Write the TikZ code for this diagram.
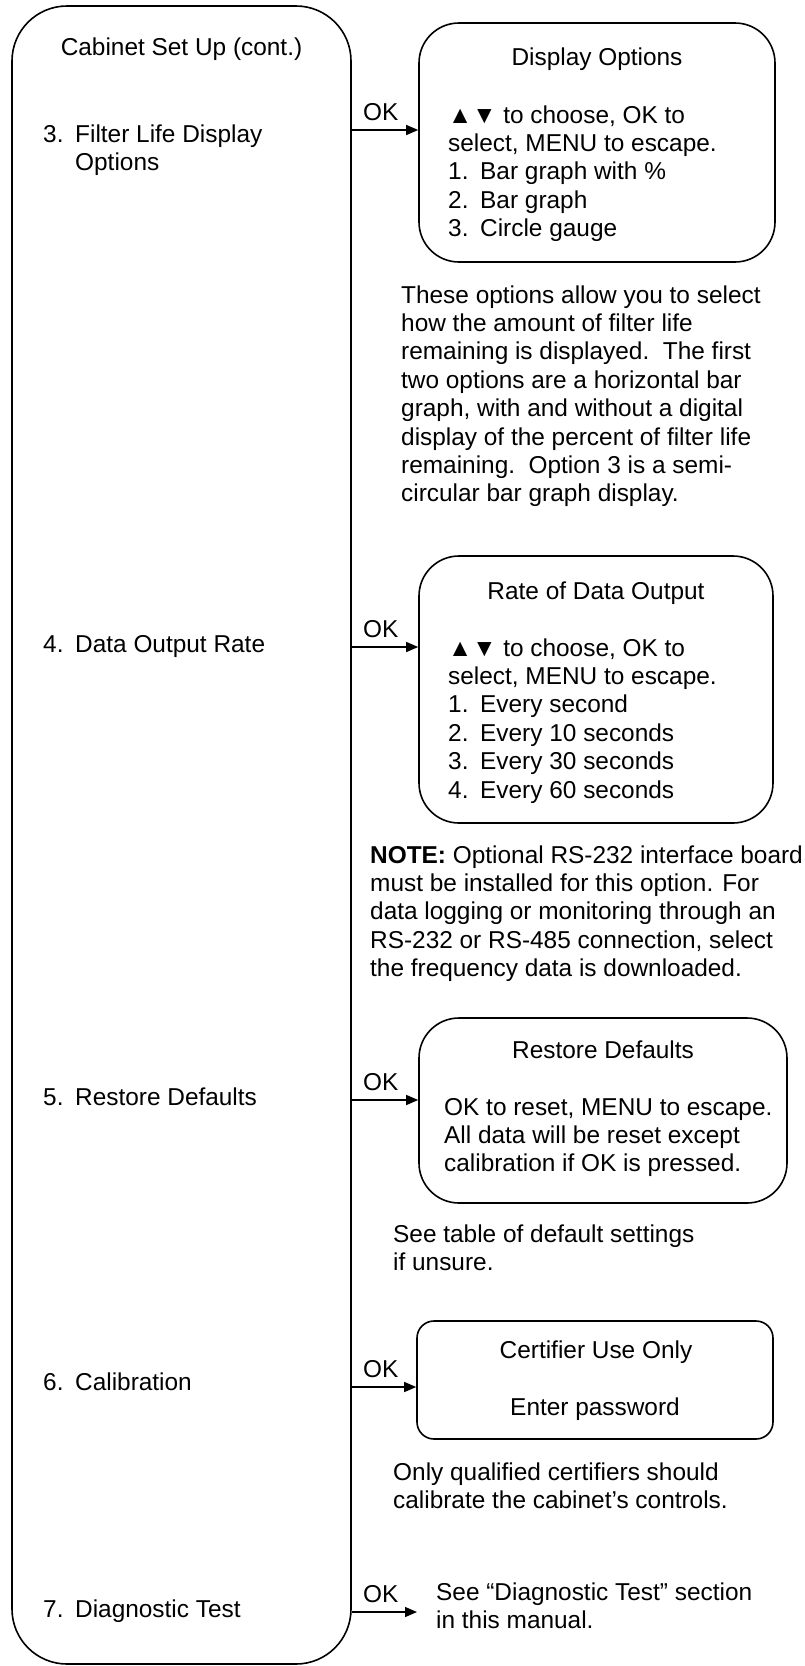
\documentclass[tikz,border=0pt]{standalone}
\usepackage{fontspec}
\setmainfont{Liberation Sans}
\usetikzlibrary{arrows.meta}
\newcommand\tl[1]{\begin{tabular}[t]{@{}l@{}}#1\end{tabular}}
\newcommand\nm[1]{\makebox[32pt][l]{#1}}
\begin{document}
\begin{tikzpicture}[x=1pt,y=-1pt,
  every node/.style={font=\fontsize{24.4}{28.4}\selectfont, inner sep=0pt, text=black},
  box/.style={draw, line width=1.6pt, rounded corners=40pt},
  arr/.style={line width=1.3pt, -{Triangle[length=12pt,width=10pt]}},
  txt/.style={anchor=base west},
  ctr/.style={anchor=base}]
\useasboundingbox (0,0) rectangle (805,1666);
\fill[white] (0,0) rectangle (805,1666);

% main column box
\node[box, rounded corners=55pt, minimum width=339pt, minimum height=1658pt] (big) at (181.5,835) {};
\node[ctr] (title) at (181.5,55) {Cabinet Set Up (cont.)};
\node[txt] (i3) at (43,142) {\tl{\nm{3.}Filter Life Display\\\nm{}Options}};
\node[txt] (i4) at (43,652) {\nm{4.}Data Output Rate};
\node[txt] (i5) at (43,1105) {\nm{5.}Restore Defaults};
\node[txt] (i6) at (43,1390) {\nm{6.}Calibration};
\node[txt] (i7) at (43,1617) {\nm{7.}Diagnostic Test};

% Display options box
\node[box, minimum width=356pt, minimum height=239pt] (b3) at (597,142.5) {};
\node[ctr] (b3t) at (597,65) {Display Options};
\node[txt] (b3b) at (448,123) {\tl{▲▼ to choose, OK to\\select, MENU to escape.\\\nm{1.}Bar graph with \%\\\nm{2.}Bar graph\\\nm{3.}Circle gauge}};
\node[txt] (p3) at (401,303) {\tl{These options allow you to select\\how the amount of filter life\\remaining is displayed.\ \ The first\\two options are a horizontal bar\\graph, with and without a digital\\display of the percent of filter life\\remaining.\ \ Option 3 is a semi-\\circular bar graph display.}};

% Rate of data output box
\node[box, minimum width=354pt, minimum height=267pt] (b4) at (596,689.5) {};
\node[ctr] (b4t) at (596,599) {Rate of Data Output};
\node[txt] (b4b) at (448,656) {\tl{▲▼ to choose, OK to\\select, MENU to escape.\\\nm{1.}Every second\\\nm{2.}Every 10 seconds\\\nm{3.}Every 30 seconds\\\nm{4.}Every 60 seconds}};
\node[txt] (p4) at (370,863) {\tl{\textbf{NOTE:} Optional RS-232 interface board\\must be installed for this option. For\\data logging or monitoring through an\\RS-232 or RS-485 connection, select\\the frequency data is downloaded.}};

% Restore defaults box
\node[box, minimum width=368pt, minimum height=185pt] (b5) at (603,1110.5) {};
\node[ctr] (b5t) at (603,1058) {Restore Defaults};
\node[txt] (b5b) at (444,1115) {\tl{OK to reset, MENU to escape.\\All data will be reset except\\calibration if OK is pressed.}};
\node[txt] (p5) at (393,1242) {\tl{See table of default settings\\if unsure.}};

% Certifier box
\node[box, rounded corners=17pt, minimum width=356pt, minimum height=118pt] (b6) at (595,1380) {};
\node[ctr] (b6t) at (596,1358) {Certifier Use Only};
\node[ctr] (b6b) at (595,1415) {Enter password};
\node[txt] (p6) at (393,1480) {\tl{Only qualified certifiers should\\calibrate the cabinet’s controls.}};

% Diagnostic text
\node[txt] (p7) at (436,1600) {\tl{See “Diagnostic Test” section\\in this manual.}};

% OK labels
\node[txt] (ok3) at (363,120) {OK};
\node[txt] (ok4) at (363,637) {OK};
\node[txt] (ok5) at (363,1090) {OK};
\node[txt] (ok6) at (363,1377) {OK};
\node[txt] (ok7) at (363,1602) {OK};

% connectors
\coordinate (y3) at (0,130);
\coordinate (y4) at (0,647);
\coordinate (y5) at (0,1100);
\coordinate (y6) at (0,1387);
\coordinate (e7) at (417,1612);
\draw[arr] (y3 -| big.east) -- (y3 -| b3.west);
\draw[arr] (y4 -| big.east) -- (y4 -| b4.west);
\draw[arr] (y5 -| big.east) -- (y5 -| b5.west);
\draw[arr] (y6 -| big.east) -- (y6 -| b6.west);
\draw[arr] (e7 -| big.east) -- (e7);
\end{tikzpicture}
\end{document}
